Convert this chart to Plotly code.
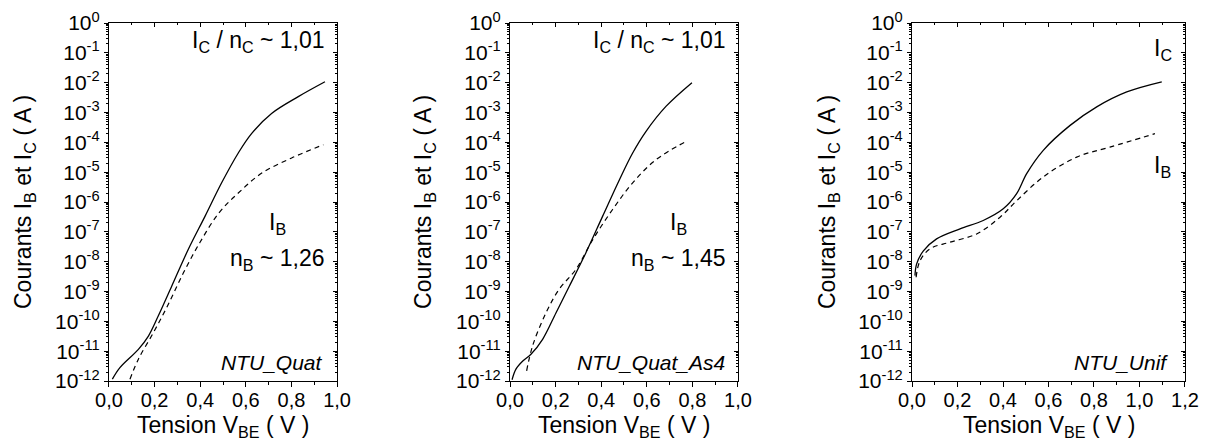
import plotly.graph_objects as go

# --- data (V_BE in volts, currents in amperes) ---
quat_v_ic = [0.015, 0.048, 0.129, 0.173, 0.216, 0.275, 0.348, 0.421, 0.494, 0.567, 0.626, 0.713, 0.830, 0.947]
quat_ic = [1.15e-12, 2.8e-12, 1.15e-11, 3.2e-11, 1.5e-10, 1.5e-9, 2.6e-8, 3.3e-7, 4.4e-6, 4.4e-5, 2.0e-4,
           9.3e-4, 3.4e-3, 1.07e-2]
quat_v_ib = [0.092, 0.129, 0.195, 0.256, 0.327, 0.398, 0.482, 0.567, 0.670, 0.801, 0.940]
quat_ib = [1.15e-12, 5.4e-12, 4.2e-11, 3.2e-10, 4.3e-9, 4.3e-8, 4.3e-7, 2.0e-6, 9.3e-6, 3.0e-5, 8.3e-5]

as4_v_ic = [0.009, 0.026, 0.056, 0.092, 0.143, 0.202, 0.260, 0.333, 0.406, 0.480, 0.538, 0.596, 0.684, 0.798]
as4_ic = [1.1e-12, 2.5e-12, 4.7e-12, 7.9e-12, 2.5e-11, 1.95e-10, 1.5e-9, 2.0e-8, 3.3e-7, 5.6e-6, 4.4e-5,
          2.3e-4, 1.6e-3, 1.0e-2]
as4_v_ib = [0.073, 0.099, 0.158, 0.216, 0.289, 0.363, 0.450, 0.538, 0.640, 0.772]
as4_ib = [2.2e-12, 1.5e-11, 1.95e-10, 1.2e-9, 5.5e-9, 5.5e-8, 5.6e-7, 4.4e-6, 2.6e-5, 1.07e-4]

unif_v_ic = [0.013, 0.02, 0.05, 0.108, 0.211, 0.313, 0.401, 0.46, 0.504, 0.577, 0.695, 0.812, 0.944, 1.098]
unif_ic = [3.4e-9, 8.3e-9, 2.3e-8, 5.8e-8, 1.26e-7, 2.4e-7, 5.9e-7, 1.9e-6, 8.9e-6, 5.4e-5, 3.7e-4,
           1.55e-3, 4.9e-3, 1.07e-2]
unif_v_ib = [0.018, 0.035, 0.079, 0.167, 0.284, 0.387, 0.46, 0.577, 0.724, 0.87, 1.068]
unif_ib = [3.0e-9, 1.07e-8, 2.7e-8, 4.5e-8, 8.5e-8, 3.1e-7, 1.1e-6, 6.9e-6, 3.2e-5, 6.9e-5, 1.95e-4]

decades = list(range(-12, 1))
y_tickvals = [10.0 ** k for k in decades]
y_ticktext = [f"10<sup>{k}</sup>" for k in decades]
y_minorvals = [m * 10.0 ** k for k in decades[:-1] for m in range(2, 10)]

FONT = "Arial, 'Liberation Sans', sans-serif"

panels = [
    dict(name="NTU_Quat", dom=[0.0899, 0.2781], xmax=1.0,
         vic=quat_v_ic, ic=quat_ic, vib=quat_v_ib, ib=quat_ib,
         ylab_x=0.0198,
         notes=[("I<sub>C</sub> / n<sub>C</sub> ~ 1,01", 0.958, 0.947, "right"),
                ("I<sub>B</sub>", 0.74, 0.441, "center"),
                ("n<sub>B</sub> ~ 1,26", 0.958, 0.338, "right")],
         tag_x=0.945),
    dict(name="NTU_Quat_As4", dom=[0.4208, 0.6089], xmax=1.0,
         vic=as4_v_ic, ic=as4_ic, vib=as4_v_ib, ib=as4_ib,
         ylab_x=0.3498,
         notes=[("I<sub>C</sub> / n<sub>C</sub> ~ 1,01", 0.958, 0.947, "right"),
                ("I<sub>B</sub>", 0.74, 0.441, "center"),
                ("n<sub>B</sub> ~ 1,45", 0.958, 0.338, "right")],
         tag_x=0.951),
    dict(name="NTU_Unif", dom=[0.7525, 0.9777], xmax=1.2,
         vic=unif_v_ic, ic=unif_ic, vib=unif_v_ib, ib=unif_ib,
         ylab_x=0.6832,
         notes=[("I<sub>C</sub>", 0.919, 0.925, "center"),
                ("I<sub>B</sub>", 0.919, 0.598, "center")],
         tag_x=0.945),
]

fig = go.Figure()
layout = dict(
    width=1212, height=439,
    margin=dict(l=0, r=0, t=23, b=58, autoexpand=False),
    paper_bgcolor="white", plot_bgcolor="white",
    showlegend=False, separators=", ",
    font=dict(family=FONT, color="black", size=21),
    annotations=[],
)

common = dict(showline=True, linecolor="black", linewidth=1.2, showgrid=False, zeroline=False,
              fixedrange=True, automargin=False, tickcolor="black")

for i, p in enumerate(panels):
    n = i + 1
    xa, ya = f"x{n}" if n > 1 else "x", f"y{n}" if n > 1 else "y"
    xt, yr = f"x{n + 3}", f"y{n + 3}"
    fig.add_scatter(x=p["vic"], y=p["ic"], mode="lines", line=dict(color="black", width=1.3, shape="spline"),
                    xaxis=xa, yaxis=ya, hoverinfo="skip")
    fig.add_scatter(x=p["vib"], y=p["ib"], mode="lines",
                    line=dict(color="black", width=1.2, dash="5px,4px", shape="spline"),
                    xaxis=xa, yaxis=ya, hoverinfo="skip")
    # empty traces so the mirrored inside-tick axes (top / right) get drawn
    fig.add_scatter(x=[], y=[], xaxis=xa, yaxis=yr, hoverinfo="skip")
    fig.add_scatter(x=[], y=[], xaxis=xt, yaxis=ya, hoverinfo="skip")

    xkey = "xaxis" if n == 1 else f"xaxis{n}"
    ykey = "yaxis" if n == 1 else f"yaxis{n}"
    layout[xkey] = dict(
        domain=p["dom"], anchor=ya, range=[0, p["xmax"]], dtick=0.2, tick0=0, tickformat=".1f",
        ticks="outside", ticklen=5, tickwidth=1, ticklabelstandoff=-4,
        minor=dict(ticks="outside", ticklen=3, dtick=0.1, tickcolor="black"),
        tickfont=dict(size=20), **common,
    )
    layout[ykey] = dict(
        domain=[0, 1], anchor=xa, type="log", range=[-12, 0],
        tickmode="array", tickvals=y_tickvals, ticktext=y_ticktext,
        ticks="outside", ticklen=4, tickwidth=1,
        minor=dict(ticks="outside", ticklen=2, tickmode="array", tickvals=y_minorvals, tickcolor="black"),
        tickfont=dict(size=21), **common,
    )
    layout[f"xaxis{n + 3}"] = dict(
        overlaying=xa, side="top", anchor=ya, range=[0, p["xmax"]], dtick=0.2, tick0=0,
        ticks="inside", ticklen=4, showticklabels=False,
        minor=dict(ticks="inside", ticklen=2, dtick=0.1, tickcolor="black"), **common,
    )
    layout[f"yaxis{n + 3}"] = dict(
        overlaying=ya, side="right", anchor=xa, type="log", range=[-12, 0],
        tickmode="array", tickvals=y_tickvals, ticks="inside", ticklen=4, showticklabels=False,
        minor=dict(ticks="inside", ticklen=2, tickmode="array", tickvals=y_minorvals, tickcolor="black"),
        **common,
    )

    for text, x, y, anchor in p["notes"]:
        layout["annotations"].append(dict(
            text=text, x=x, y=y, xref=f"{xa} domain", yref=f"{ya} domain",
            xanchor=anchor, yanchor="middle", showarrow=False, font=dict(size=23)))
    layout["annotations"].append(dict(
        text=f"<i>{p['name']}</i>", x=p["tag_x"], y=0.053, xref=f"{xa} domain", yref=f"{ya} domain",
        xanchor="right", yanchor="middle", showarrow=False, font=dict(size=21)))
    # axis titles
    layout["annotations"].append(dict(
        text="Courants I<sub>B</sub> et I<sub>C</sub> ( A )", x=p["ylab_x"], y=0.5,
        xref="paper", yref="paper", textangle=-90, showarrow=False,
        xanchor="center", yanchor="middle", font=dict(size=23)))
    layout["annotations"].append(dict(
        text="Tension V<sub>BE</sub> ( V )", x=(p["dom"][0] + p["dom"][1]) / 2, y=-0.126,
        xref="paper", yref="paper", showarrow=False,
        xanchor="center", yanchor="middle", font=dict(size=23)))

fig.update_layout(**layout)
# drop the default page margin so the 1212x439 figure fills the window exactly
fig.write_html("out.html", config={"displayModeBar": False},
               post_script="document.body.style.margin = '0';")
